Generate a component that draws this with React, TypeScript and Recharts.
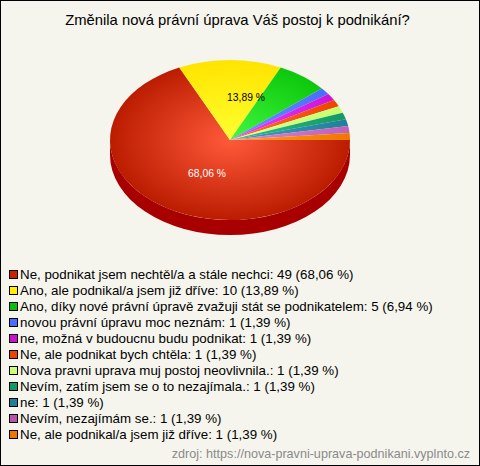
import { PieChart, Pie, Legend } from "recharts";

const title = "Změnila nová právní úprava Váš postoj k podnikání?";
const sourceNote = "zdroj: https://nova-pravni-uprava-podnikani.vyplnto.cz";

const categories = [
  "Ne, podnikat jsem nechtěl/a a stále nechci",
  "Ano, ale podnikal/a jsem již dříve",
  "Ano, díky nové právní úpravě zvažuji stát se podnikatelem",
  "novou právní úpravu moc neznám",
  "ne, možná v budoucnu budu podnikat",
  "Ne, ale podnikat bych chtěla",
  "Nova pravni uprava muj postoj neovlivnila.",
  "Nevím, zatím jsem se o to nezajímala.",
  "ne",
  "Nevím, nezajímám se.",
  "Ne, ale podnikal/a jsem již dříve",
];
const counts = [49, 10, 5, 1, 1, 1, 1, 1, 1, 1, 1];
const percents = ["68,06", "13,89", "6,94", "1,39", "1,39", "1,39", "1,39", "1,39", "1,39", "1,39", "1,39"];

const swatchColors = ["#cc2200", "#ffee00", "#0dbf0d", "#4a6eff", "#cc11cc", "#ee4400", "#ccff77", "#119966", "#227f99", "#bb55aa", "#ee7700"];
const edgeColors = ["#bb1c00", "#ffe400", "#0cc80c", "#4a6cff", "#cc14d8", "#ee4400", "#c4ff70", "#119966", "#227f99", "#c060b8", "#ee7700"];
const centerColors = ["#ff5a3a", "#ffff30", "#40f840", "#7090ff", "#f040ff", "#ff7030", "#e0ff90", "#30c088", "#40a0c0", "#e080d8", "#ffa020"];

const chartData = categories.map((name, i) => ({ name, value: counts[i], fill: swatchColors[i] }));

const CX = 230;
const CY = 140;
const RADIUS = 120;
const SQUASH = 2 / 3;
const DEPTH = 15;
const WALL_COLOR = "#a80000";

// only the two big slices carry a label, the generator puts them off the mid angle
const labelSpots: Record<number, { dx: number; dy: number; color: string }> = {
  0: { dx: -23, dy: 33, color: "#ffffff" },
  1: { dx: 16, dy: -43, color: "#000000" },
};

function ellipsePoint(cx: number, cy: number, rx: number, ry: number, angle: number) {
  const rad = (-angle * Math.PI) / 180;
  return { x: cx + rx * Math.cos(rad), y: cy + ry * Math.sin(rad) };
}

// Pie only knows circles, so each sector is redrawn as a flattened one with its side wall
function TiltedSector(props: any) {
  const { cx, cy, outerRadius, startAngle, endAngle, name } = props;
  const rx = outerRadius;
  const ry = outerRadius * SQUASH;
  const index = categories.indexOf(name);
  const a = ellipsePoint(cx, cy, rx, ry, startAngle);
  const b = ellipsePoint(cx, cy, rx, ry, endAngle);
  const large = Math.abs(endAngle - startAngle) > 180 ? 1 : 0;
  const top = `M${cx},${cy} L${a.x},${a.y} A${rx},${ry} 0 ${large} 1 ${b.x},${b.y} Z`;

  // front wall: part of the sector sitting in the lower half (angles 0 to -180)
  const wallFrom = Math.min(startAngle, 0);
  const wallTo = Math.max(endAngle, -180);
  let wall = null;
  if (wallFrom > wallTo) {
    const w1 = ellipsePoint(cx, cy, rx, ry, wallFrom);
    const w2 = ellipsePoint(cx, cy, rx, ry, wallTo);
    wall = (
      <path
        d={`M${w1.x},${w1.y} A${rx},${ry} 0 0 1 ${w2.x},${w2.y} L${w2.x},${w2.y + DEPTH} A${rx},${ry} 0 0 0 ${w1.x},${w1.y + DEPTH} Z`}
        fill={WALL_COLOR}
      />
    );
  }
  return (
    <g>
      {wall}
      <path d={top} fill={`url(#slice${index})`} />
    </g>
  );
}

function SliceLabel(props: any) {
  const spot = labelSpots[props.index];
  if (!spot) return null;
  return (
    <text
      x={props.cx + spot.dx}
      y={props.cy + spot.dy}
      fill={spot.color}
      fontSize={10.3}
      textAnchor="middle"
      dominantBaseline="central"
      fontFamily="'Liberation Sans', Arial, sans-serif"
    >
      {percents[props.index]} %
    </text>
  );
}

function LegendList({ payload }: any) {
  const rows = (payload ?? []) as any[];
  return (
    <div>
      {rows.map((row, i) => {
        const index = categories.indexOf(row.value);
        return (
          <div key={i} style={{ display: "flex", alignItems: "center", height: 16, whiteSpace: "nowrap" }}>
            <span
              style={{
                width: 7,
                height: 7,
                border: "1px solid #000",
                background: row.color,
                marginRight: 2,
                display: "inline-block",
              }}
            />
            <span>
              {row.value}: {counts[index]} ({percents[index]} %)
            </span>
          </div>
        );
      })}
    </div>
  );
}

export default function App() {
  return (
    <div
      style={{
        position: "absolute",
        left: 0,
        top: 0,
        width: 480,
        height: 466,
        boxSizing: "border-box",
        border: "1px solid #000",
        background: "#f5f5ed",
        fontFamily: "'Liberation Sans', Arial, sans-serif",
      }}
    >
      <div style={{ position: "absolute", left: -1, top: -1 }}>
        <PieChart width={480} height={466} margin={{ top: 0, right: 0, bottom: 0, left: 0 }}>
          <defs>
            {centerColors.map((color, i) => (
              <radialGradient
                key={i}
                id={`slice${i}`}
                gradientUnits="userSpaceOnUse"
                cx={0}
                cy={0}
                r={1}
                gradientTransform={`translate(${CX} ${CY}) scale(${RADIUS} ${RADIUS * SQUASH})`}
              >
                <stop offset="0%" stopColor={color} />
                <stop offset="100%" stopColor={edgeColors[i]} />
              </radialGradient>
            ))}
          </defs>
          <text
            x={237.5}
            y={20}
            textAnchor="middle"
            dominantBaseline="central"
            fontSize={14.8}
            fill="#000"
            fontFamily="'Liberation Sans', Arial, sans-serif"
          >
            {title}
          </text>
          <Pie
            data={chartData}
            dataKey="value"
            nameKey="name"
            cx={CX}
            cy={CY}
            outerRadius={RADIUS}
            startAngle={0}
            endAngle={-360}
            stroke="none"
            shape={TiltedSector}
            label={SliceLabel}
            labelLine={false}
            isAnimationActive={false}
          />
          <Legend
            content={LegendList}
            itemSorter={null}
            wrapperStyle={{ position: "absolute", left: 9, top: 266, width: 470, fontSize: 13.33, color: "#000", bottom: "auto" }}
          />
          <text
            x={470}
            y={454}
            textAnchor="end"
            dominantBaseline="central"
            fontSize={12.6}
            fill="#8a8a8a"
            fontFamily="'Liberation Sans', Arial, sans-serif"
          >
            {sourceNote}
          </text>
        </PieChart>
      </div>
    </div>
  );
}
